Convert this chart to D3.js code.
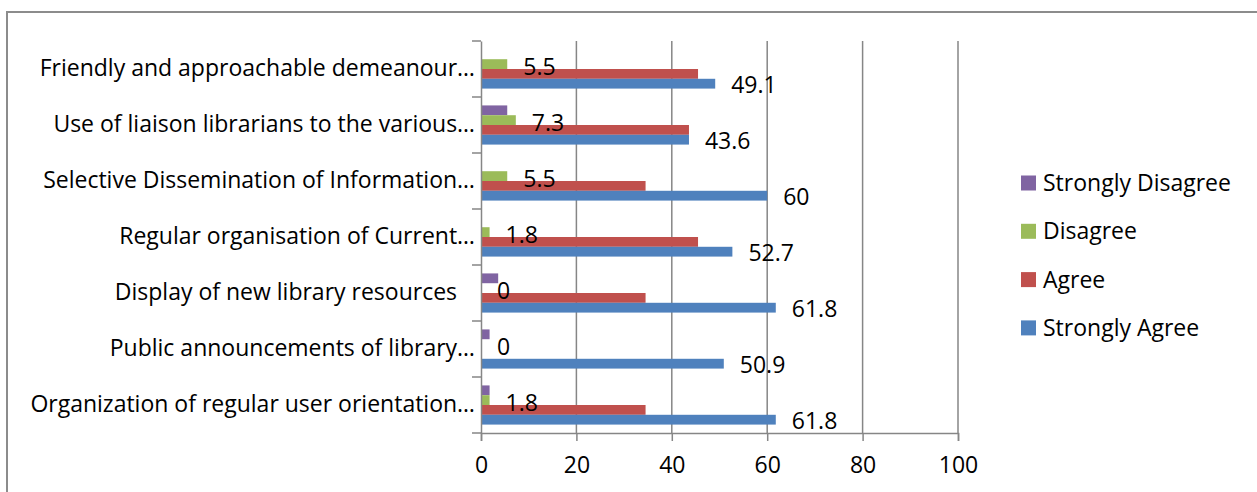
<!DOCTYPE html>
<html>
<head>
<meta charset="utf-8">
<script src="https://cdn.jsdelivr.net/npm/d3@7/dist/d3.min.js"></script>
<style>
  html, body { margin: 0; padding: 0; background: #fff; }
  svg { display: block; }
  text { font-family: "Open Sans", sans-serif; fill: #000; }
</style>
</head>
<body>
<svg id="chart" width="1257" height="492"></svg>
<script>
// Survey statements (top to bottom as drawn)
const categories = [
  "Friendly and approachable demeanour\u2026",
  "Use of liaison librarians to the various\u2026",
  "Selective Dissemination of Information\u2026",
  "Regular organisation of Current\u2026",
  "Display of new library resources   ",
  "Public announcements of library\u2026",
  "Organization of regular user orientation\u2026"
];

// Response shares (%) per statement, same order as categories
const stronglyDisagree = [0, 5.5, 0, 0, 3.6, 1.8, 1.8];
const disagree         = [5.5, 7.3, 5.5, 1.8, 0, 0, 1.8];
const agree            = [45.5, 43.6, 34.5, 45.5, 34.5, null, 34.5];
const stronglyAgree    = [49.1, 43.6, 60, 52.7, 61.8, 50.9, 61.8];

const xTicks = [0, 20, 40, 60, 80, 100];

const seriesNames = ["Strongly Disagree", "Disagree", "Agree", "Strongly Agree"];
const seriesValues = [stronglyDisagree, disagree, agree, stronglyAgree];
const seriesColors = ["#8064A2", "#9BBB59", "#C0504D", "#4F81BD"];
const labelledSeries = ["Disagree", "Strongly Agree"];

const svg = d3.select("#chart");
const gridColor = "#868686";
const fontSize = 23;
const legendFontSize = 23;

// Outer chart frame
svg.append("path")
  .attr("d", "M7,500 V12 H1262")
  .attr("fill", "none")
  .attr("stroke", "#8c8c8c")
  .attr("stroke-width", 2);

const plot = { left: 481, right: 958, top: 41, bottom: 433 };

const x = d3.scaleLinear().domain([0, 100]).range([plot.left, plot.right]);
const y = d3.scaleBand().domain(categories).range([plot.top, plot.bottom]).padding(0);
const ySeries = d3.scaleBand().domain(seriesNames).range([0, y.bandwidth()])
  .paddingInner(0).paddingOuter(0.86);

// Vertical gridlines
svg.append("g")
  .selectAll("line")
  .data(xTicks.filter(t => t > 0))
  .join("line")
  .attr("x1", d => x(d)).attr("x2", d => x(d))
  .attr("y1", plot.top).attr("y2", plot.bottom)
  .attr("stroke", gridColor).attr("stroke-width", 1.5);

// Bars
const rows = [];
seriesNames.forEach((s, si) => {
  categories.forEach((c, ci) => {
    rows.push({ series: s, cat: c, value: seriesValues[si][ci], color: seriesColors[si] });
  });
});

svg.append("g")
  .selectAll("rect")
  .data(rows.filter(d => d.value !== null && d.value > 0))
  .join("rect")
  .attr("x", x(0))
  .attr("y", d => y(d.cat) + ySeries(d.series))
  .attr("width", d => x(d.value) - x(0))
  .attr("height", ySeries.bandwidth())
  .attr("fill", d => d.color);

// Data labels
svg.append("g")
  .selectAll("text")
  .data(rows.filter(d => labelledSeries.includes(d.series) && d.value !== null))
  .join("text")
  .attr("x", d => x(d.value) + 16)
  .attr("y", d => y(d.cat) + ySeries(d.series) + ySeries.bandwidth() / 2 + (d.series === "Disagree" ? 3 : 1))
  .attr("dy", "0.35em")
  .attr("font-size", fontSize)
  .text(d => d.value);

// Category axis (left)
const yAxis = d3.axisLeft(y).tickSize(0).tickPadding(6);
const yg = svg.append("g").attr("transform", `translate(${plot.left},0)`).call(yAxis);
yg.select(".domain").attr("stroke", gridColor).attr("stroke-width", 1.5);
yg.selectAll(".tick text")
  .attr("font-size", fontSize)
  .attr("font-family", "'Open Sans', sans-serif")
  .style("white-space", "pre")
  .attr("fill", "#000");
// Tick marks on the band boundaries
const boundaries = categories.map(c => y(c)).concat([plot.bottom]);
yg.append("g")
  .selectAll("line")
  .data(boundaries)
  .join("line")
  .attr("x1", -9).attr("x2", 0)
  .attr("y1", d => d).attr("y2", d => d)
  .attr("stroke", gridColor).attr("stroke-width", 1.5);

// Value axis (bottom)
const xAxis = d3.axisBottom(x).tickValues(xTicks).tickSize(8).tickPadding(16);
const xg = svg.append("g").attr("transform", `translate(0,${plot.bottom})`).call(xAxis);
xg.select(".domain").attr("stroke", gridColor).attr("stroke-width", 1.5);
xg.selectAll(".tick line").attr("stroke", gridColor).attr("stroke-width", 1.5);
xg.selectAll(".tick text")
  .attr("font-size", fontSize)
  .attr("font-family", "'Open Sans', sans-serif")
  .attr("fill", "#000");

// Legend
const legend = svg.append("g").attr("transform", "translate(1021,183)");
const legendItems = legend.selectAll("g")
  .data(seriesNames)
  .join("g")
  .attr("transform", (d, i) => `translate(0,${i * 48.3})`);
legendItems.append("rect")
  .attr("x", 0).attr("y", -7.5)
  .attr("width", 15).attr("height", 15)
  .attr("fill", (d, i) => seriesColors[i]);
legendItems.append("text")
  .attr("x", 22).attr("y", 0)
  .attr("dy", "0.35em")
  .attr("font-size", legendFontSize)
  .text(d => d);
</script>
</body>
</html>
